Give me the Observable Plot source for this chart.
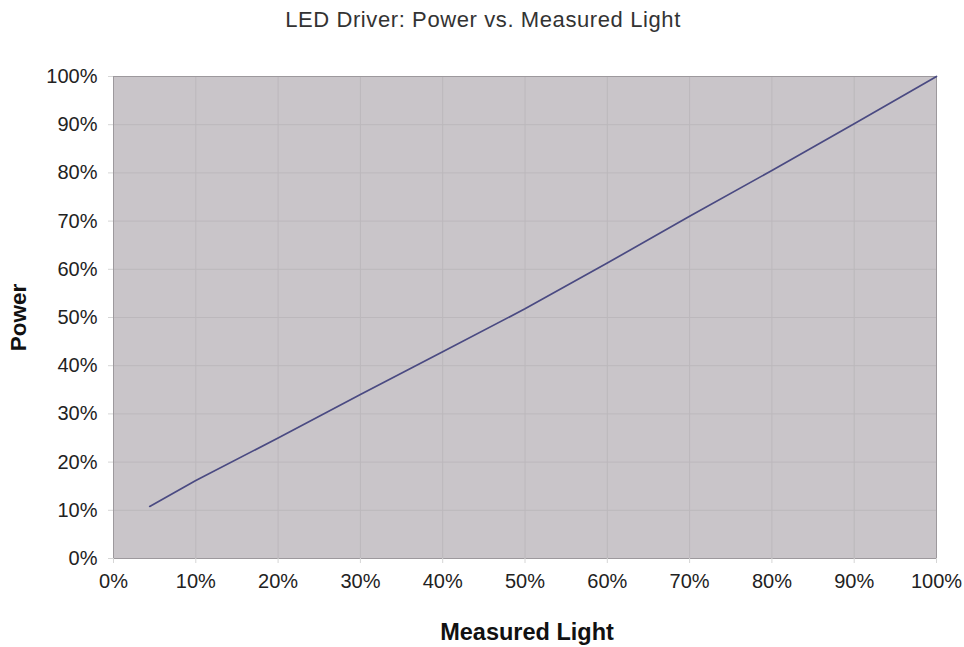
<!DOCTYPE html>
<html>
<head>
<meta charset="utf-8">
<script src="https://cdn.jsdelivr.net/npm/d3@7"></script>
<script src="https://cdn.jsdelivr.net/npm/@observablehq/plot@0.6"></script>
<style>
  html, body { margin: 0; padding: 0; background: #ffffff; }
  #chart svg { display: block; }
  #chart svg .title-mark text { letter-spacing: 0.6px; }
</style>
</head>
<body>
<div id="chart"></div>
<script>
const titleText = "LED Driver: Power vs. Measured Light";
const xLabel = "Measured Light";
const yLabel = "Power";
const lightPct = [4.4, 10, 20, 30, 40, 50, 60, 70, 80, 90, 100];
const powerPct = [10.8, 16.2, 25.0, 34.0, 42.9, 51.8, 61.3, 71.0, 80.5, 90.2, 100];
const tickValues = [0, 10, 20, 30, 40, 50, 60, 70, 80, 90, 100];

const data = lightPct.map((x, i) => ({x, y: powerPct[i]}));
const fmt = d => d + "%";

const chart = Plot.plot({
  width: 964,
  height: 647,
  marginTop: 76,
  marginBottom: 89,
  marginLeft: 113,
  marginRight: 28,
  style: {fontFamily: "'Liberation Sans', Arial, sans-serif", fontSize: "20px", color: "#222", background: "#fff"},
  x: {domain: [0, 100]},
  y: {domain: [0, 100]},
  marks: [
    Plot.frame({fill: "#c9c5c9"}),
    Plot.gridX(tickValues, {stroke: "#bcb8bc", strokeOpacity: 1}),
    Plot.gridY(tickValues, {stroke: "#bcb8bc", strokeOpacity: 1}),
    Plot.frame({stroke: "#9d999d"}),
    Plot.axisX(tickValues, {tickFormat: fmt, tickSize: 5, tickPadding: 10, stroke: "#d6d6d6", label: null, fontSize: 20}),
    Plot.axisY(tickValues, {tickFormat: fmt, tickSize: 5, tickPadding: 11, stroke: "#d6d6d6", label: null, fontSize: 20}),
    Plot.line(data, {x: "x", y: "y", stroke: "#4a4a82", strokeWidth: 1.7}),
    Plot.text([titleText], {frameAnchor: "top", dx: -42, dy: -57, lineAnchor: "middle", fontSize: 22, fill: "#333", className: "title-mark"}),
    Plot.text([xLabel], {frameAnchor: "bottom", dx: 2, dy: 74, lineAnchor: "middle", fontSize: 23.5, fontWeight: "bold", fill: "#111"}),
    Plot.text([yLabel], {frameAnchor: "left", dx: -95, rotate: -90, textAnchor: "middle", fontSize: 22.5, fontWeight: "bold", fill: "#111"})
  ]
});
document.getElementById("chart").append(chart);
</script>
</body>
</html>
